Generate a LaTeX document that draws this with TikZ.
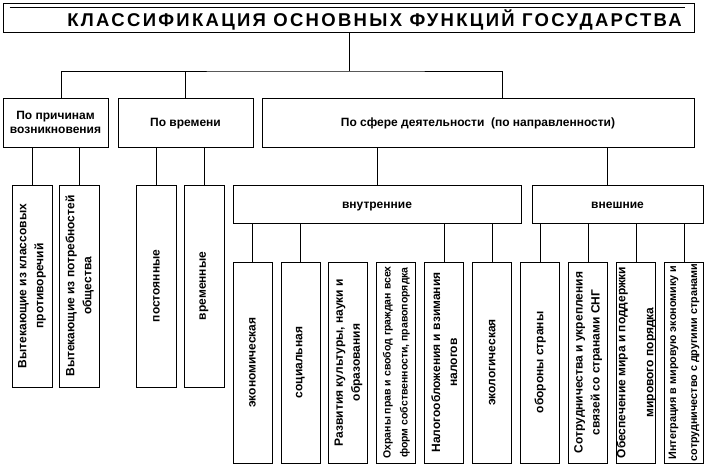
\documentclass[tikz,border=0pt]{standalone}
\usepackage{fontspec}
\setmainfont{Liberation Sans}
\newfontfamily\titlefont{Liberation Sans}[LetterSpace=12.4]
\begin{document}
\begin{tikzpicture}[x=1pt,y=-1pt,
  box/.style={draw, line width=0.9pt, inner sep=0pt},
  ln/.style={line width=0.9pt},
  hl/.style={font=\fontsize{12}{14}\selectfont\bfseries, align=center},
  hlone/.style={hl, text height=8.6pt, text depth=0pt},
  vt/.style={rotate=90, font=\fontsize{12}{17}\selectfont\bfseries, align=center, inner sep=0pt},
  vbox/.style={box, minimum width=39pt, minimum height=201pt},
  tbox/.style={box, minimum width=40pt, minimum height=202pt}]
\useasboundingbox (0,0) rectangle (707,466);
\fill[white] (0,0) rectangle (707,466);

% title
\node[box, minimum width=691pt, minimum height=29pt] (title) at (348.5,17.5) {};
\draw[ln] ([xshift=7pt,yshift=-5pt]title.north west) -- ([xshift=-9pt,yshift=-5pt]title.north east);
\node[font=\titlefont\bfseries\fontsize{18.5}{20}\selectfont, inner sep=0pt, text height=13.3pt, text depth=0pt] (ttl) at (374.6,20) {КЛАССИФИКАЦИЯ ОСНОВНЫХ ФУНКЦИЙ ГОСУДАРСТВА};

% second row
\node[box, hl, minimum width=105pt, minimum height=49pt] (A) at (55.5,122.5) {По причинам\\возникновения};
\node[box, hlone, minimum width=135pt, minimum height=49pt] (B) at (185.5,122.5) {По времени};
\node[box, hlone, minimum width=432pt, minimum height=49pt] (C) at (478,122.5) {По сфере деятельности\ \ (по направленности)};

\coordinate (hub) at (349,71);
\draw[ln] (title.south -| hub) -- (hub);
\draw[ln] (A.north -| 61,0) |- (hub) -| (C.north -| 502,0);
\draw[ln] (B.north) -- (B.north |- hub);

% third row, left
\node[tbox] (A1) at (32,286) {};
\node[tbox] (A2) at (79.5,286) {};
\node[tbox] (B1) at (156.5,286) {};
\node[tbox] (B2) at (204,286) {};
\draw[ln] (A1.north) -- (A1.north |- A.south);
\draw[ln] (A2.north) -- (A2.north |- A.south);
\draw[ln] (B1.north) -- (B1.north |- B.south);
\draw[ln] (B2.north) -- (B2.north |- B.south);
\node[vt] (tA1) at (A1) {Вытекающие из классовых\\противоречий};
\node[vt] (tA2) at (A2) {Вытекающие из потребностей\\общества};
\node[vt] (tB1) at (B1) {постоянные};
\node[vt] (tB2) at (B2) {временные};

% internal / external
\node[box, hlone, minimum width=288pt, minimum height=38pt] (V) at (377,204) {внутренние};
\node[box, hlone, minimum width=171pt, minimum height=38pt] (E) at (617.5,204) {внешние};
\draw[ln] (V.north) -- (V.north |- C.south);
\draw[ln] (E.north -| 607,0) -- (C.south -| 607,0);

% bottom boxes
\foreach \i in {1,...,10}{
  \node[vbox] (b\i) at ({252.5+47.95*(\i-1)},362.5) {};
}
\foreach \i in {1,2,5,6}{
  \draw[ln] (b\i.north) -- (b\i.north |- V.south);
}
\foreach \i in {7,8,9,10}{
  \draw[ln] (b\i.north) -- (b\i.north |- E.south);
}
\node[vt] (t1) at (b1) {экономическая};
\node[vt] (t2) at (b2) {социальная};
\node[vt] (t3) at (b3) {Развития культуры, науки и\\образования};
\node[vt, font=\fontsize{10.5}{17}\selectfont\bfseries] (t4) at (b4) {Охраны прав и свобод граждан всех\\форм собственности, правопорядка};
\node[vt] (t5) at (b5) {Налогообложения и взимания\\налогов};
\node[vt] (t6) at (b6) {экологическая};
\node[vt] (t7) at (b7) {обороны страны};
\node[vt] (t8) at (b8) {Сотрудничества и укрепления\\связей со странами СНГ};
\node[vt, font=\fontsize{12}{28}\selectfont\bfseries] (t9) at (b9) {Обеспечение мира и поддержки\\мирового порядка};
\node[vt, font=\fontsize{10.8}{21}\selectfont\bfseries] (t10) at (b10) {Интеграция в мировую экономику и\\сотрудничество с другими странами};
\end{tikzpicture}
\end{document}
